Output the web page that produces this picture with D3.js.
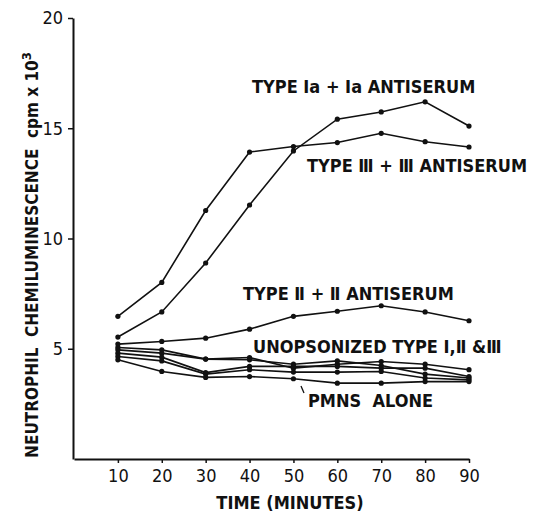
<!DOCTYPE html>
<html>
<head>
<meta charset="utf-8">
<script src="https://cdn.jsdelivr.net/npm/d3@7"></script>
<style>
  body { margin: 0; background: #fff; }
  text { font-family: "DejaVu Sans Condensed", "DejaVu Sans", sans-serif; fill: #111; }
</style>
</head>
<body>
<div id="chart"></div>
<script>
// Time points (minutes)
const times = [10, 20, 30, 40, 50, 60, 70, 80, 90];

// cpm x 10^3
const typeIa = [5.53, 6.67, 8.89, 11.52, 13.97, 15.41, 15.74, 16.2, 15.1];
const typeIII = [6.47, 8.01, 11.27, 13.92, 14.17, 14.35, 14.77, 14.39, 14.15];
const typeII = [5.21, 5.33, 5.48, 5.89, 6.47, 6.70, 6.95, 6.67, 6.27];
const unopsA = [5.06, 4.95, 4.53, 4.60, 4.12, 4.30, 4.42, 4.30, 4.05];
const unopsB = [4.95, 4.80, 4.53, 4.50, 4.30, 4.45, 4.24, 3.85, 3.67];
const unopsC = [4.80, 4.62, 3.92, 4.20, 4.20, 4.20, 4.12, 4.12, 3.74];
const pmnsAlone = [4.50, 3.97, 3.70, 3.74, 3.64, 3.44, 3.44, 3.51, 3.51];
const unopsD = [4.65, 4.45, 3.85, 4.05, 3.94, 3.94, 3.97, 3.67, 3.59];

const series = [typeIa, typeIII, typeII, unopsA, unopsB, unopsC, unopsD, pmnsAlone];

const xTicks = [10, 20, 30, 40, 50, 60, 70, 80, 90];
const yTicks = [5, 10, 15, 20];

const width = 537, height = 512;

const svg = d3.select("#chart")
    .append("svg")
    .attr("width", width)
    .attr("height", height);

const x = d3.scaleLinear().domain([0, 90]).range([74, 469]);
const y = d3.scaleLinear().domain([0, 20]).range([459, 18]);

// Axes
const xAxis = svg.append("g")
    .attr("transform", `translate(0,${y(0)})`)
    .call(d3.axisBottom(x).tickValues(xTicks).tickSize(4).tickSizeOuter(0).tickPadding(6));

const yAxis = svg.append("g")
    .attr("transform", `translate(${x(0) - 1},0)`)
    .call(d3.axisLeft(y).tickValues(yTicks).tickSize(5).tickSizeOuter(0).tickPadding(5));

[xAxis, yAxis].forEach(a => {
    a.select(".domain").attr("stroke", "#111").attr("stroke-width", 2);
    a.selectAll(".tick line").attr("stroke", "#111").attr("stroke-width", 1.5);
    a.selectAll(".tick text")
        .style("font-size", "18px")
        .style("font-family", "\"DejaVu Sans Condensed\", sans-serif")
        .attr("fill", "#111");
});

// Lines
const line = d3.line()
    .x((d, i) => x(times[i]))
    .y(d => y(d));

series.forEach(s => {
    svg.append("path")
        .datum(s)
        .attr("fill", "none")
        .attr("stroke", "#111")
        .attr("stroke-width", 1.6)
        .attr("d", line);

    svg.selectAll(null)
        .data(s)
        .enter()
        .append("circle")
        .attr("cx", (d, i) => x(times[i]))
        .attr("cy", d => y(d))
        .attr("r", 2.6)
        .attr("fill", "#111");
});

// Labels
const labels = [
    { text: "TYPE Ⅰa + Ⅰa ANTISERUM", x: 252, y: 93 },
    { text: "TYPE Ⅲ + Ⅲ ANTISERUM", x: 307, y: 172 },
    { text: "TYPE Ⅱ + Ⅱ ANTISERUM", x: 243, y: 300 },
    { text: "UNOPSONIZED TYPE Ⅰ,Ⅱ &Ⅲ", x: 253, y: 353 },
    { text: "PMNS  ALONE", x: 308, y: 407 }
];

svg.selectAll(".lbl")
    .data(labels)
    .enter()
    .append("text")
    .attr("class", "lbl")
    .attr("x", d => d.x)
    .attr("y", d => d.y)
    .style("font-size", "18px")
    .style("font-weight", "bold")
    .style("white-space", "pre")
    .text(d => d.text);

// little pointer to the PMNS line
svg.append("line")
    .attr("x1", 301).attr("y1", 386)
    .attr("x2", 304).attr("y2", 393)
    .attr("stroke", "#111").attr("stroke-width", 1.3);

// Axis titles
svg.append("text")
    .attr("x", 290)
    .attr("y", 509)
    .attr("text-anchor", "middle")
    .style("font-size", "18px")
    .style("font-weight", "bold")
    .text("TIME (MINUTES)");

const yt = svg.append("text")
    .attr("transform", "translate(38,255) rotate(-90)")
    .attr("text-anchor", "middle")
    .style("font-size", "17px")
    .style("font-weight", "bold")
    .style("white-space", "pre");
yt.append("tspan").text("NEUTROPHIL  CHEMILUMINESCENCE  cpm x 10");
yt.append("tspan").attr("dy", -7).style("font-size", "13px").text("3");
</script>
</body>
</html>
